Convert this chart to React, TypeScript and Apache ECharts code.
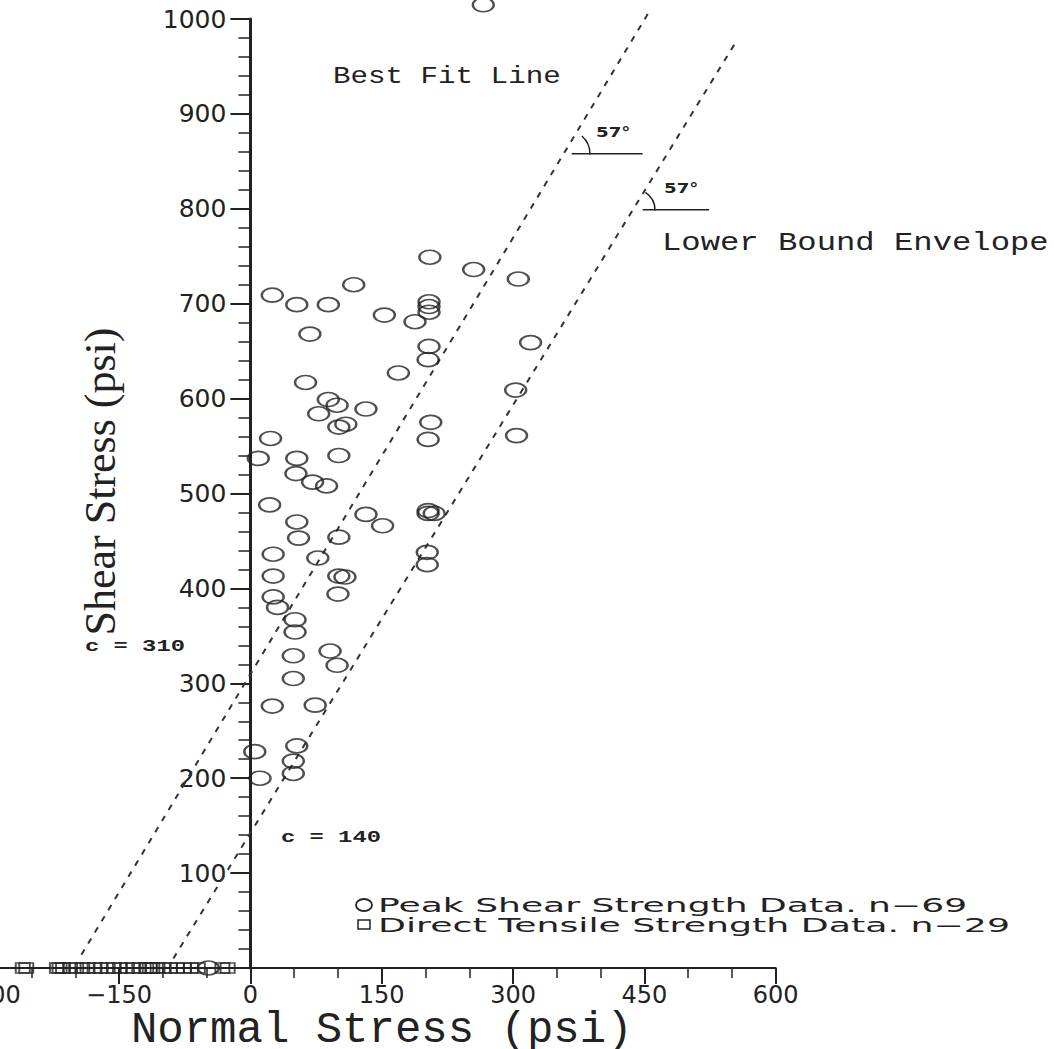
import React, { useEffect, useRef } from "react";
import * as echarts from "echarts";

// Axis ticks
const xTicks = [-300, -150, 0, 150, 300, 450, 600];
const yTicks = [0, 100, 200, 300, 400, 500, 600, 700, 800, 900, 1000];

// Peak shear strength data (normal stress, shear stress), psi
const peakShear: [number, number][] = [
  [266, 1015], [205, 749], [255, 736], [306, 726], [118, 720], [25, 709], [53, 699], [89, 699],
  [204, 702], [204, 697], [204, 691], [153, 688], [188, 681], [68, 668], [320, 659], [204, 655],
  [203, 641], [169, 627], [63, 617], [89, 599], [99, 593], [303, 609], [132, 589], [78, 584],
  [206, 575], [101, 570], [109, 573], [23, 558], [203, 557], [304, 561], [9, 537], [53, 537],
  [101, 540], [52, 521], [71, 512], [87, 508], [22, 488], [53, 470], [132, 478], [151, 466],
  [203, 479], [210, 479], [203, 482], [55, 453], [101, 454], [26, 436], [77, 432], [202, 438],
  [202, 425], [26, 413], [101, 413], [108, 412], [100, 394], [26, 391], [31, 380], [51, 367],
  [51, 354], [49, 329], [91, 334], [99, 319], [49, 305], [25, 276], [74, 277], [5, 228],
  [53, 234], [49, 218], [49, 205], [11, 200], [-48, 0],
];

// Direct tensile strength data (normal stress, shear = 0)
const tensileX = [
  -260, -256, -221, -218, -214, -206, -199, -192, -186, -178, -171, -163, -156, -149, -141,
  -134, -127, -119, -115, -112, -106, -99, -92, -84, -76, -68, -60, -32, -26,
];

// Envelopes (end points)
const bestFitLine: [number, number][] = [[-193, 14], [457, 1010]];
const lowerBoundLine: [number, number][] = [[-88, 10], [556, 978]];
// Horizontal references for the 57° angles
const angleRefUpper: [number, number][] = [[367, 858], [448, 858]];
const angleRefLower: [number, number][] = [[448, 799], [524, 799]];

const INK = "#222";
const ELLIPSE = "path://M0,50 A50,50 0 1,1 100,50 A50,50 0 1,1 0,50 Z";

const GRID_LEFT = -12.25;
const ZERO_X = 250.4;

function txt(text: string, x: number, y: number, font: string, scaleX: number) {
  return {
    type: "text",
    x,
    y,
    scaleX,
    silent: true,
    style: {
      text,
      font,
      fill: INK,
      textAlign: "left",
      textVerticalAlign: "middle",
      verticalAlign: "middle",
    },
  };
}

export default function App() {
  const ref = useRef<HTMLDivElement>(null);
  useEffect(() => {
    if (!ref.current) return;
    const chart = echarts.init(ref.current, null, { renderer: "svg" });
    const option: any = {
      animation: false,
      backgroundColor: "#fff",
      grid: {
        left: GRID_LEFT,
        right: 278.3,
        top: 19,
        bottom: 81,
        containLabel: false,
        outerBoundsMode: "none",
      },
      xAxis: {
        type: "value",
        min: xTicks[0],
        max: xTicks[xTicks.length - 1],
        interval: xTicks[1] - xTicks[0],
        axisLine: { lineStyle: { color: INK, width: 2 } },
        axisTick: { show: true, length: 16, lineStyle: { color: INK, width: 2 } },
        minorTick: { show: true, splitNumber: 3, length: 10, lineStyle: { color: INK, width: 1.5 } },
        splitLine: { show: false },
        axisLabel: {
          formatter: (v: number) => String(v).replace("-", "\u2212"),
          fontFamily: "DejaVu Sans",
          fontSize: 24,
          color: INK,
          margin: 15,
        },
        name: "Normal Stress (psi)",
        nameLocation: "middle",
        nameMoveOverlap: false,
        nameGap: 45,
        nameTextStyle: { fontFamily: "Liberation Mono", fontSize: 44, lineHeight: 34, color: INK },
      },
      yAxis: {
        type: "value",
        position: "left",
        offset: GRID_LEFT - ZERO_X,
        min: yTicks[0],
        max: yTicks[yTicks.length - 1],
        interval: yTicks[1] - yTicks[0],
        axisLine: { onZero: false, lineStyle: { color: INK, width: 3 } },
        axisTick: { show: true, length: 20, lineStyle: { color: INK, width: 2 } },
        minorTick: { show: true, splitNumber: 5, length: 12, lineStyle: { color: INK, width: 1.5 } },
        splitLine: { show: false },
        axisLabel: {
          formatter: (v: number) => (v === 0 ? "" : String(v)),
          fontFamily: "DejaVu Sans",
          fontSize: 25,
          color: INK,
          margin: 24,
        },
        name: "Shear Stress (psi)",
        nameLocation: "middle",
        nameRotate: 90,
        nameGap: 128,
        nameTextStyle: {
          fontFamily: "Liberation Serif",
          fontSize: 44,
          color: INK,
          padding: [0, 0, 0, 24],
        },
      },
      series: [
        {
          name: "Best Fit Line",
          type: "line",
          data: bestFitLine,
          symbol: "none",
          clip: false,
          silent: true,
          lineStyle: { type: [6, 7], width: 2, color: "#333" },
          z: 2,
        },
        {
          name: "Lower Bound Envelope",
          type: "line",
          data: lowerBoundLine,
          symbol: "none",
          clip: false,
          silent: true,
          lineStyle: { type: [6, 7], width: 2, color: "#333" },
          z: 2,
        },
        {
          type: "line",
          data: angleRefUpper,
          symbol: "none",
          silent: true,
          lineStyle: { width: 1.5, color: INK },
        },
        {
          type: "line",
          data: angleRefLower,
          symbol: "none",
          silent: true,
          lineStyle: { width: 1.5, color: INK },
        },
        {
          name: "Peak Shear Strength Data",
          type: "scatter",
          data: peakShear,
          symbol: ELLIPSE,
          symbolSize: [21, 14],
          clip: false,
          itemStyle: { color: "transparent", borderColor: INK, borderWidth: 2 },
          z: 3,
        },
        {
          name: "Direct Tensile Strength Data",
          type: "scatter",
          data: tensileX.map((x) => [x, 0]),
          symbol: "rect",
          symbolSize: [14, 10],
          clip: false,
          itemStyle: { color: "transparent", borderColor: INK, borderWidth: 1.6 },
          z: 3,
        },
      ],
      graphic: [
        txt("Best Fit Line", 333, 77, '23px "Liberation Mono"', 1.27),
        txt("Lower Bound Envelope", 662, 243, '26px "Liberation Mono"', 1.24),
        txt("57\u00b0", 596, 132, 'bold 14px "DejaVu Sans"', 1.3),
        txt("57\u00b0", 664, 188, 'bold 14px "DejaVu Sans"', 1.3),
        txt("c = 310", 85, 646, 'bold 17px "Liberation Mono"', 1.4),
        txt("c = 140", 281, 837, 'bold 17px "Liberation Mono"', 1.4),
        txt("Peak Shear Strength Data. n\u221269", 378, 905, '19px "DejaVu Sans"', 1.9),
        txt("Direct Tensile Strength Data. n\u221229", 378, 925, '19px "DejaVu Sans"', 1.91),
        {
          type: "ellipse",
          silent: true,
          shape: { cx: 364, cy: 905, rx: 8, ry: 6 },
          style: { fill: "none", stroke: INK, lineWidth: 1.8 },
        },
        {
          type: "rect",
          silent: true,
          shape: { x: 358, y: 920, width: 12, height: 9 },
          style: { fill: "none", stroke: INK, lineWidth: 1.5 },
        },
        {
          type: "arc",
          silent: true,
          shape: { cx: 566, cy: 154, r: 24, startAngle: -0.85, endAngle: 0.02, clockwise: true },
          style: { fill: "none", stroke: INK, lineWidth: 1.5 },
        },
        {
          type: "arc",
          silent: true,
          shape: { cx: 634, cy: 210, r: 21, startAngle: -1.0, endAngle: 0.02, clockwise: true },
          style: { fill: "none", stroke: INK, lineWidth: 1.5 },
        },
      ],
    };
    chart.setOption(option);
    return () => chart.dispose();
  }, []);
  return (
    <div
      ref={ref}
      style={{ position: "absolute", left: 0, top: 0, width: 1054, height: 1049, background: "#fff" }}
    />
  );
}
